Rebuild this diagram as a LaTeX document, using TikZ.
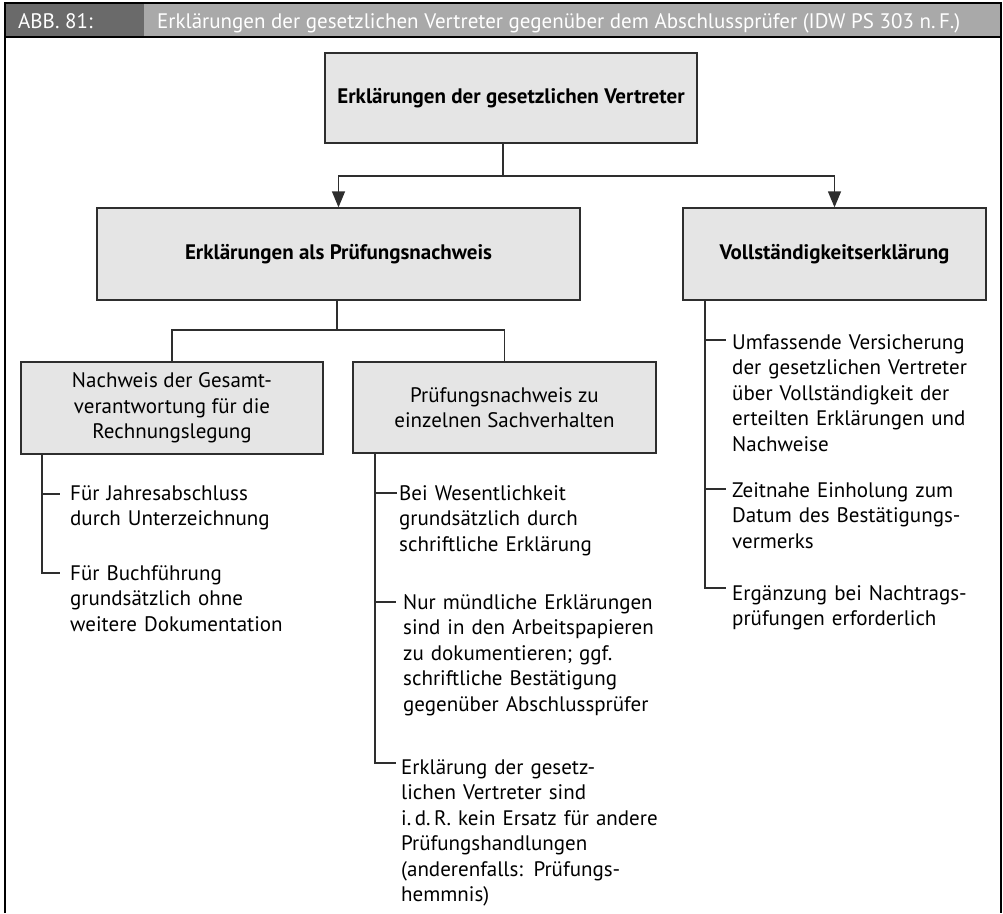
\documentclass[tikz,border=0pt]{standalone}
\usepackage{fontspec}
\setmainfont{PT Sans}
\usetikzlibrary{arrows.meta}
\definecolor{boxfill}{HTML}{E5E5E5}
\definecolor{hdark}{HTML}{6A6A6A}
\definecolor{hlight}{HTML}{A9A9A9}
\definecolor{linecol}{HTML}{2E2E2E}
\tikzset{
  box/.style={draw=linecol, line width=1.3pt, fill=boxfill, inner sep=0pt, align=center,
    font=\fontsize{21}{25.5}\selectfont},
  boldbox/.style={box, font=\fontsize{21}{25.5}\selectfont\bfseries},
  conn/.style={draw=linecol, line width=1.3pt},
  arr/.style={conn, -{Triangle[width=13pt,length=16pt]}},
  item/.style={anchor=base west, inner sep=0pt, text width=320pt, align=left,
    font=\fontsize{21}{25.5}\selectfont},
  htext/.style={anchor=base west, inner sep=0pt, text=white, font=\fontsize{21}{24}\selectfont}
}
\begin{document}
\begin{tikzpicture}[x=1pt,y=-1pt]
\useasboundingbox (0,0) rectangle (1003,913);
% header
\fill[hdark] (5,3) rectangle (144,37);
\fill[hlight] (144,3) rectangle (1001,37);
\node[htext] (abb) at (18,28) {ABB. 81:};
\node[htext] (title) at (157,28) {Erklärungen der gesetzlichen Vertreter gegenüber dem Abschlussprüfer (IDW PS 303 n.\,F.)};
\draw[black, line width=1.2pt] (5,913) -- (5,3) -- (1001,3) -- (1001,913);
\draw[black, line width=2pt] (5,37) -- (1001,37);
% boxes
\node[boldbox, minimum width=372pt, minimum height=90pt] (top) at (511,98) {Erklärungen der gesetzlichen Vertreter};
\node[boldbox, minimum width=483pt, minimum height=92pt] (mid) at (338.5,254) {Erklärungen als Prüfungsnachweis};
\node[boldbox, minimum width=303pt, minimum height=92pt] (vol) at (834.5,254) {Vollständigkeitserklärung};
\node[box, minimum width=302pt, minimum height=92pt] (bl) at (172,408) {Nachweis der Gesamt-\\verantwortung für die\\Rechnungslegung};
\node[box, minimum width=303pt, minimum height=91pt] (bm) at (504.5,407.5) {Prüfungsnachweis zu\\einzelnen Sachverhalten};
% level 1 connectors
\coordinate (j1) at (503,176);
\draw[conn] (top.south -| j1) -- (j1);
\draw[arr] (j1) -| (mid.north);
\draw[arr] (j1) -| (vol.north);
% level 2 connectors
\coordinate (j2) at (337,330);
\draw[conn] (mid.south -| j2) -- (j2);
\draw[conn] (j2) -| (bl.north);
\draw[conn] (j2) -| (bm.north);
% left tree
\node[item] (t1) at (70,500) {Für Jahresabschluss\\durch Unterzeichnung};
\node[item] (t2) at (70,580) {Für Buchführung\\grundsätzlich ohne\\weitere Dokumentation};
\coordinate (lv) at (42,494);
\coordinate (lv2) at (42,573);
\draw[conn] (bl.south -| lv) -- (lv2) -- (60,573);
\draw[conn] (lv) -- (60,494);
% middle tree
\node[item] (m1) at (399,500) {Bei Wesentlichkeit\\grundsätzlich durch\\schriftliche Erklärung};
\node[item] (m2) at (403,609) {Nur mündliche Erklärungen\\sind in den Arbeitspapieren\\zu dokumentieren; ggf.\\schriftliche Bestätigung\\gegenüber Abschlussprüfer};
\node[item] (m3) at (401,774) {Erklärung der gesetz-\\lichen Vertreter sind\\i.\,d.\,R. kein Ersatz für andere\\Prüfungshandlungen\\(anderenfalls: Prüfungs-\\hemmnis)};
\coordinate (mv1) at (375,493);
\coordinate (mv2) at (375,602);
\coordinate (mv3) at (375,763);
\draw[conn] (bm.south -| mv1) -- (mv3) -- (396,763);
\draw[conn] (mv1) -- (397,493);
\draw[conn] (mv2) -- (396,602);
% right tree
\node[item] (r1) at (732,349) {Umfassende Versicherung\\der gesetzlichen Vertreter\\über Vollständigkeit der\\erteilten Erklärungen und\\Nachweise};
\node[item] (r2) at (732,497) {Zeitnahe Einholung zum\\Datum des Bestätigungs-\\vermerks};
\node[item] (r3) at (732,600) {Ergänzung bei Nachtrags-\\prüfungen erforderlich};
\coordinate (rv1) at (705,340);
\coordinate (rv2) at (705,489);
\coordinate (rv3) at (705,588);
\draw[conn] (vol.south -| rv1) -- (rv3) -- (726,588);
\draw[conn] (rv1) -- (726,340);
\draw[conn] (rv2) -- (726,489);
\end{tikzpicture}
\end{document}
